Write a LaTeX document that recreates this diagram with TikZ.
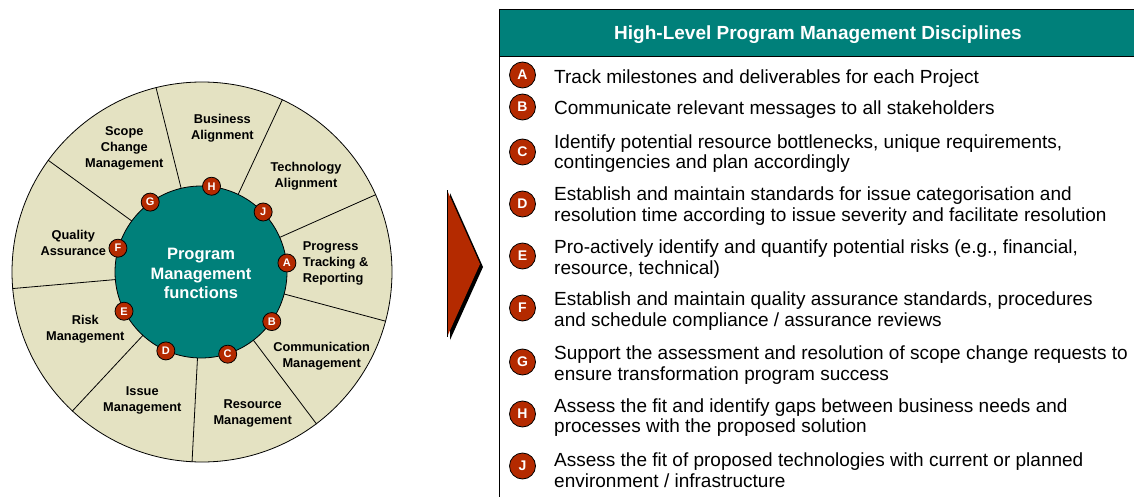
\documentclass[tikz,border=0pt]{standalone}
\usepackage{fontspec}
\setmainfont{Liberation Sans}
\definecolor{teal1}{RGB}{0,128,122}
\definecolor{beige1}{RGB}{228,226,194}
\definecolor{red1}{RGB}{180,42,0}
\tikzset{
  seglabel/.style={font=\fontsize{12.8}{16}\selectfont\bfseries, align=center, text=black, inner sep=0pt},
  wbadge/.style={circle, fill=red1, draw=black, line width=0.8pt, minimum size=18pt, inner sep=0pt, text=white, font=\fontsize{11}{11}\selectfont\bfseries},
  lbadge/.style={circle, fill=red1, draw=black, line width=0.8pt, minimum width=25pt, minimum height=26pt, inner sep=0pt, text=white, font=\fontsize{14}{14}\selectfont\bfseries},
  itemtext/.style={anchor=west, align=left, inner sep=0pt, font=\fontsize{19}{20.5}\selectfont},
  divider/.style={draw=black, line width=0.8pt}
}
\begin{document}
\begin{tikzpicture}[x=1pt,y=-1pt]
\useasboundingbox (0,0) rectangle (1134,497);
% wheel
\node[circle, fill=beige1, draw=black, line width=0.8pt, minimum size=380pt, inner sep=0pt] (wheel) at (202,272) {};
\foreach \a in {104,65,24.4,-15.5,-53.8,-93,-133.3,185,144}{
  \draw[divider] (wheel.center) -- (wheel.\a);
}
\node[circle, fill=teal1, draw=black, line width=0.8pt, minimum size=172pt, inner sep=0pt, text=white,
  font=\fontsize{16.5}{19.8}\selectfont\bfseries, align=center] (hub) at (201,272) {};
\node[text=white, font=\fontsize{16.5}{19.8}\selectfont\bfseries, align=center, inner sep=0pt] (hubtext) at (201,273.5) {Program\\Management\\functions};
% wheel labels
\node[seglabel] (lbus) at (222.3,128) {Business\\Alignment};
\node[seglabel] (ltech) at (306,176) {Technology\\Alignment};
\node[seglabel, align=left, anchor=west] (lprog) at (302.7,263.5) {Progress\\Tracking \&\\Reporting};
\node[seglabel] (lcomm) at (321.7,356) {Communication\\Management};
\node[seglabel] (lres) at (252.7,413) {Resource\\Management};
\node[seglabel] (liss) at (142.3,400.5) {Issue\\Management};
\node[seglabel] (lrisk) at (85.3,329.5) {Risk\\Management};
\node[seglabel] (lqual) at (73.3,243) {Quality\\Assurance};
\node[seglabel] (lscope) at (124.3,148.5) {Scope\\Change\\Management};
% wheel badges
\node[wbadge] (wH) at (hub.83.5) {H};
\node[wbadge] (wJ) at (hub.44) {J};
\node[wbadge] (wA) at (hub.6) {A};
\node[wbadge] (wB) at (hub.-35.6) {B};
\node[wbadge] (wC) at (hub.-72) {C};
\node[wbadge] (wD) at (hub.-114) {D};
\node[wbadge] (wE) at (hub.-153) {E};
\node[wbadge] (wF) at (hub.164) {F};
\node[wbadge] (wG) at (hub.126) {G};
% arrow
\fill[black] (450,193) -- (483,267) -- (450,340) -- cycle;
\fill[red1] (447,190) -- (480,264) -- (447,337) -- cycle;
\draw[black, line width=0.5pt] (447,190) -- (447,337);
% table
\draw[black, line width=0.8pt] (499,9) -- (499,500);
\node[fill=teal1, draw=black, line width=0.8pt, minimum width=640pt, minimum height=47pt, anchor=north west, inner sep=0pt] (head) at (499,9) {};
\node[text=white, font=\fontsize{19}{19}\selectfont\bfseries] (title) at (818,35) {High-Level Program Management Disciplines};
% items
\node[lbadge] (bA) at (522.5,75) {A};
\node[itemtext] (tA) at (554,78.5) {Track milestones and deliverables for each Project};
\node[lbadge] (bB) at (522.5,107) {B};
\node[itemtext] (tB) at (554,109.5) {Communicate relevant messages to all stakeholders};
\node[lbadge] (bC) at (522.5,152) {C};
\node[itemtext] (tC) at (554,153.5) {Identify potential resource bottlenecks, unique requirements,\\contingencies and plan accordingly};
\node[lbadge] (bD) at (522.5,204) {D};
\node[itemtext] (tD) at (554,206) {Establish and maintain standards for issue categorisation and\\resolution time according to issue severity and facilitate resolution};
\node[lbadge] (bE) at (522.5,256) {E};
\node[itemtext] (tE) at (554,259) {Pro-actively identify and quantify potential risks (e.g., financial,\\resource, technical)};
\node[lbadge] (bF) at (522.5,308) {F};
\node[itemtext] (tF) at (554,311) {Establish and maintain quality assurance standards, procedures\\and schedule compliance / assurance reviews};
\node[lbadge] (bG) at (522.5,362) {G};
\node[itemtext] (tG) at (554,365) {Support the assessment and resolution of scope change requests to\\ensure transformation program success};
\node[lbadge] (bH) at (522.5,414) {H};
\node[itemtext] (tH) at (554,417.5) {Assess the fit and identify gaps between business needs and\\processes with the proposed solution};
\node[lbadge] (bJ) at (522.5,466) {J};
\node[itemtext] (tJ) at (554,470) {Assess the fit of proposed technologies with current or planned\\environment / infrastructure};
\end{tikzpicture}
\end{document}
